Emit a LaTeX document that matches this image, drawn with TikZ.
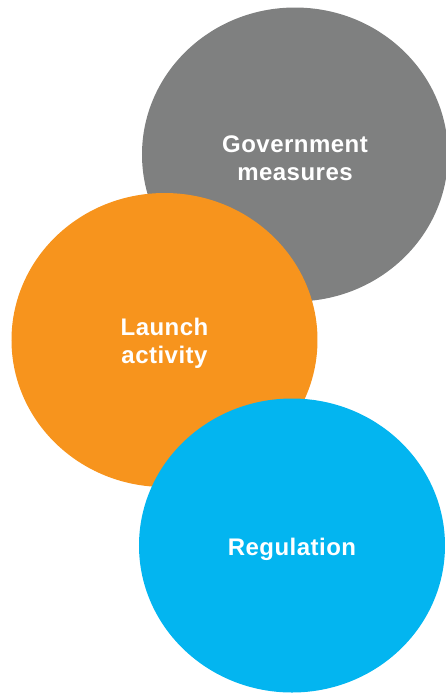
\documentclass[tikz,border=0pt]{standalone}
\usepackage{fontspec}
\usepackage{xcolor}
\usetikzlibrary{shapes.geometric}
\newfontfamily\labelfont[LetterSpace=2]{Liberation Sans}
\definecolor{Slate}{HTML}{7F8080}
\definecolor{Amber}{HTML}{F7941D}
\definecolor{Sky}{HTML}{03B5F0}
\tikzset{
  blob/.style={ellipse, fill=#1, draw=none, inner sep=0pt, minimum width=153pt, minimum height=147pt},
  blob/.default=Slate,
  tag/.style={align=center, text=white, inner sep=0pt, font=\labelfont\bfseries\fontsize{12}{14}\selectfont}
}

\begin{document}
\begin{tikzpicture}[x=0.5pt, y=-0.5pt]
  \useasboundingbox (0,0) rectangle (446,693);
  \clip (0,0) rectangle (446,693);
  % back to front: grey, orange, blue
  \node[blob=Slate] (gov) at (295,154.5) {};
  \node[blob=Amber] (launch) at (164.5,340) {};
  \node[blob=Sky] (reg) at (292,545.5) {};
  % captions sit a little below each centre
  \node[tag] (gov-tag) at ([yshift=-1.75pt]gov.center) {Government\\measures};
  \node[tag] (launch-tag) at ([yshift=-1.75pt]launch.center) {Launch\\activity};
  \node[tag] (reg-tag) at ([yshift=-1.75pt]reg.center) {Regulation};
\end{tikzpicture}
\end{document}
